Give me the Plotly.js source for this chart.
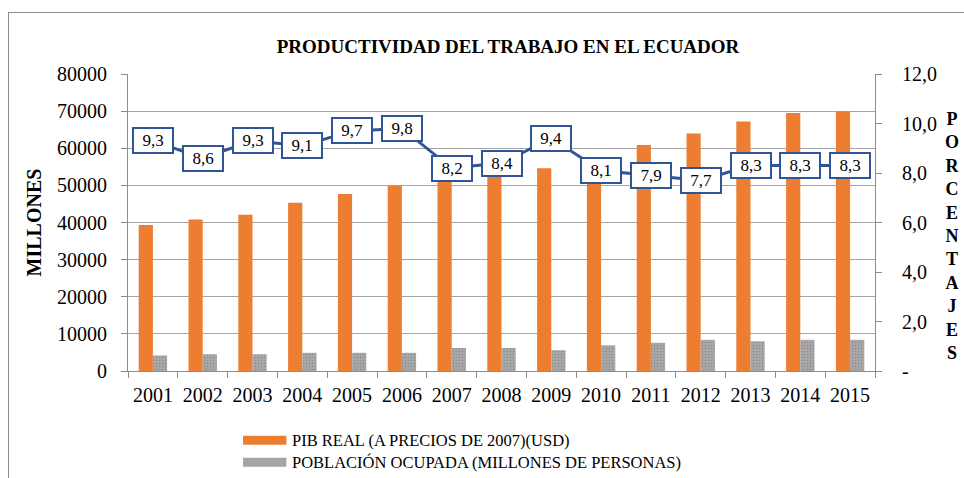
<!DOCTYPE html>
<html>
<head>
<meta charset="utf-8">
<script src="https://cdn.plot.ly/plotly-3.0.1.min.js"></script>
<style>
html,body{margin:0;padding:0;background:#fff;}
#frame{position:absolute;left:8px;top:12px;width:1000px;height:500px;border-left:1px solid #8c8c8c;border-top:1px solid #8c8c8c;}
#chart{position:absolute;left:0;top:0;width:964px;height:478px;}
</style>
</head>
<body>
<div id="frame"></div>
<div id="chart"></div>
<script>
const years = ['2001','2002','2003','2004','2005','2006','2007','2008','2009','2010','2011','2012','2013','2014','2015'];
const pibReal = [39300, 40800, 42100, 45300, 47700, 49900, 51000, 54200, 54600, 56500, 60900, 64000, 67200, 69500, 70000];
const poblacionOcupada = [4200, 4500, 4500, 4900, 4900, 4900, 6200, 6200, 5600, 6900, 7600, 8400, 8000, 8400, 8400];
const productividad = [9.3, 8.6, 9.3, 9.1, 9.7, 9.8, 8.2, 8.4, 9.4, 8.1, 7.9, 7.7, 8.3, 8.3, 8.3];
const rightTickVals = [0, 2, 4, 6, 8, 10, 12];
const rightTickText = ['-', '2,0', '4,0', '6,0', '8,0', '10,0', '12,0'];
const seriesNames = ['PIB REAL (A PRECIOS DE 2007)(USD)', 'POBLACIÓN OCUPADA (MILLONES DE PERSONAS)'];
const seriesColors = ['#ED7D31', '#A5A5A5'];

const serif = 'Liberation Serif, Times New Roman, serif';
const blue = '#2F5597';

const fmt = v => v.toFixed(1).replace('.', ',');

const traces = [
  {
    type: 'bar', x: years, y: pibReal, name: seriesNames[0],
    marker: {color: seriesColors[0]}, yaxis: 'y', showlegend: false
  },
  {
    type: 'bar', x: years, y: poblacionOcupada, name: seriesNames[1],
    marker: {color: seriesColors[1], pattern: {shape: '.', fgcolor: '#8a8a8a', bgcolor: '#a8a8a8', size: 3, solidity: 0.2}}, yaxis: 'y', showlegend: false
  },
  {
    type: 'scatter', mode: 'lines', x: years, y: productividad, yaxis: 'y2',
    line: {color: blue, width: 3}, showlegend: false, hoverinfo: 'skip'
  }
];

const annotations = productividad.map((v, i) => ({
  x: i, y: v, xref: 'x', yref: 'y2', text: fmt(v), showarrow: false,
  font: {family: serif, size: 17, color: '#000'},
  bgcolor: '#fff', bordercolor: blue, borderwidth: 2, borderpad: 3,
  width: 32, height: 17
}));

annotations.push({
  xref: 'paper', yref: 'paper', x: 1.104, y: 0.455, xanchor: 'center', yanchor: 'middle',
  text: 'PORCENTAJES'.split('').map(c => '<b>' + c + '</b>').join('<br>'),
  showarrow: false, font: {family: serif, size: 18, color: '#000'}
});

// custom legend (wide swatches as in the reference)
const shapes = [];
seriesNames.forEach((n, k) => {
  const yc = -0.233 - k * 0.074;
  shapes.push({type: 'rect', xref: 'paper', yref: 'paper', x0: 0.154, x1: 0.212, y0: yc - 0.015, y1: yc + 0.015,
    fillcolor: seriesColors[k], line: {width: 0}});
  annotations.push({xref: 'paper', yref: 'paper', x: 0.217, y: yc, xanchor: 'left', yanchor: 'middle',
    text: n, showarrow: false, font: {family: serif, size: 16.5, color: '#000'}});
});

const layout = {
  width: 964, height: 478,
  paper_bgcolor: 'rgba(0,0,0,0)', plot_bgcolor: '#fff',
  margin: {l: 128, r: 89, t: 74, b: 107},
  title: {text: '<b>PRODUCTIVIDAD DEL TRABAJO EN EL ECUADOR</b>', font: {family: serif, size: 19, color: '#000'}, x: 0.527, xanchor: 'center', y: 0.903, yanchor: 'middle'},
  bargap: 0.43, bargroupgap: 0,
  xaxis: {
    type: 'category', range: [-0.5, years.length - 0.5], tickson: 'boundaries', ticks: 'outside', ticklen: 6, tickcolor: '#8c8c8c',
    showline: true, linecolor: '#8c8c8c', linewidth: 1, showgrid: false, tickangle: 0, ticklabelstandoff: 6,
    tickfont: {family: serif, size: 20, color: '#000'}
  },
  yaxis: {
    range: [0, 80000], dtick: 10000, tickformat: 'd', ticks: 'outside', ticklen: 6, tickcolor: '#8c8c8c',
    showline: true, linecolor: '#8c8c8c', showgrid: true, gridcolor: '#a6a6a6', gridwidth: 1,
    zeroline: false, tickfont: {family: serif, size: 20, color: '#000'}, ticklabelstandoff: 10,
    title: {text: '<b>MILLONES</b>', font: {family: serif, size: 20, color: '#000'}, standoff: 10}
  },
  yaxis2: {
    overlaying: 'y', side: 'right', range: [0, 12], tickvals: rightTickVals, ticktext: rightTickText,
    ticks: 'outside', ticklen: 6, tickcolor: '#8c8c8c', showline: true, linecolor: '#8c8c8c',
    showgrid: false, zeroline: false, tickfont: {family: serif, size: 20, color: '#000'}, ticklabelstandoff: 16
  },
  shapes: shapes,
  annotations: annotations,
  showlegend: false
};

Plotly.newPlot('chart', traces, layout, {displayModeBar: false, staticPlot: true});
</script>
</body>
</html>
